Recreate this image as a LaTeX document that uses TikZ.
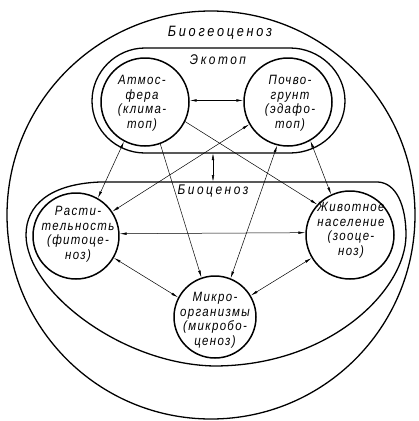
\documentclass[tikz,border=0pt]{standalone}
\usepackage{fontspec}
\setmainfont{Liberation Sans}
\newfontfamily\gost[LetterSpace=10,FakeStretch=0.85]{Liberation Sans}
\newfontfamily\gostwide[LetterSpace=18,FakeStretch=0.85]{Liberation Sans}
\usetikzlibrary{arrows.meta}

\begin{document}
\begin{tikzpicture}[x=1pt, y=-1pt, line cap=round, line join=round,
  unit/.style={circle, draw, line width=1.5pt, minimum size=88pt, inner sep=0pt},
  unittext/.style={align=center, inner sep=0pt, font=\gost\itshape\fontsize{13.5}{14.5}\selectfont},
  zone/.style={line width=1.3pt},
  zonetext/.style={inner sep=0pt, font=\gostwide\itshape\fontsize{14}{16}\selectfont},
  link/.style={line width=0.5pt, {Latex[length=7pt,width=2.6pt]}-{Latex[length=7pt,width=2.6pt]}},
  onelink/.style={line width=0.5pt, -{Latex[length=7pt,width=2.6pt]}}]

  %% ════ 外圈与分区 ════
  \draw[zone] (211,215) circle (204);
  \draw[zone] (145,48) -- (290,48) .. controls (320,48) and (345,72) .. (345,101)
    .. controls (345,130) and (320,153) .. (290,153) -- (145,153)
    .. controls (116,153) and (92,130) .. (92,101)
    .. controls (92,72) and (116,48) .. (145,48) -- cycle;
  \draw[zone] (100,182) -- (378,182) .. controls (396,183) and (406,205) .. (406,235)
    .. controls (406,290) and (330,366) .. (214,366)
    .. controls (120,364) and (26,290) .. (26,235)
    .. controls (26,205) and (50,184) .. (100,182) -- cycle;
  \coordinate (eco-s) at (213,153);
  \coordinate (bio-n) at (213,182);

  %% ════ 分区标签 ════
  \node[zonetext, font=\gostwide\itshape\fontsize{15}{17}\selectfont] (bgc-t) at (220,33) {Биогеоценоз};
  \node[zonetext] (eco-t) at (218,60) {Экотоп};
  \node[zonetext] (bio-t) at (213,191) {Биоценоз};

  %% ════ 圆 ════
  \node[unit] (atm) at (145,102) {};
  \node[unit] (soil) at (288,102) {};
  \node[unit, minimum size=86pt] (plants) at (76,236) {};
  \node[unit] (animals) at (350,235) {};
  \node[unit, minimum size=82pt] (micro) at (215,317) {};

  \node[unittext] (atm-t) at (142,103) {Атмос-\\фера\\(клима-\\топ)};
  \node[unittext] (soil-t) at (290,103) {Почво-\\грунт\\(эдафо-\\топ)};
  \node[unittext] (plants-t) at (78,234) {Расти-\\тельность\\(фитоце-\\ноз)};
  \node[unittext] (animals-t) at (351,230) {Животное\\население\\(зооце-\\ноз)};
  \node[unittext] (micro-t) at (215,320) {Микро-\\организмы\\(микробо-\\ценоз)};

  %% ════ 连线 ════
  \draw[link] (eco-s) -- (bio-n);
  \draw[link] (atm.2) -- (soil.178);
  \draw[link] (atm.242) -- (plants.60);
  \draw[link] (soil.300) -- (animals.115);
  \draw[onelink] (atm.334) -- (animals.137);
  \draw[link] (plants.34) -- (soil.210);
  \draw[onelink] (atm.290) -- (micro.109);
  \draw[link] (soil.256) -- (micro.68);
  \draw[link] (plants.3) -- (animals.177);
  \draw[link] (plants.330) -- (micro.152);
  \draw[link] (animals.211) -- (micro.31);

  % 钉死画布
  \pgfresetboundingbox
  \path[use as bounding box] (0,0) rectangle (419,421);
\end{tikzpicture}
\end{document}
